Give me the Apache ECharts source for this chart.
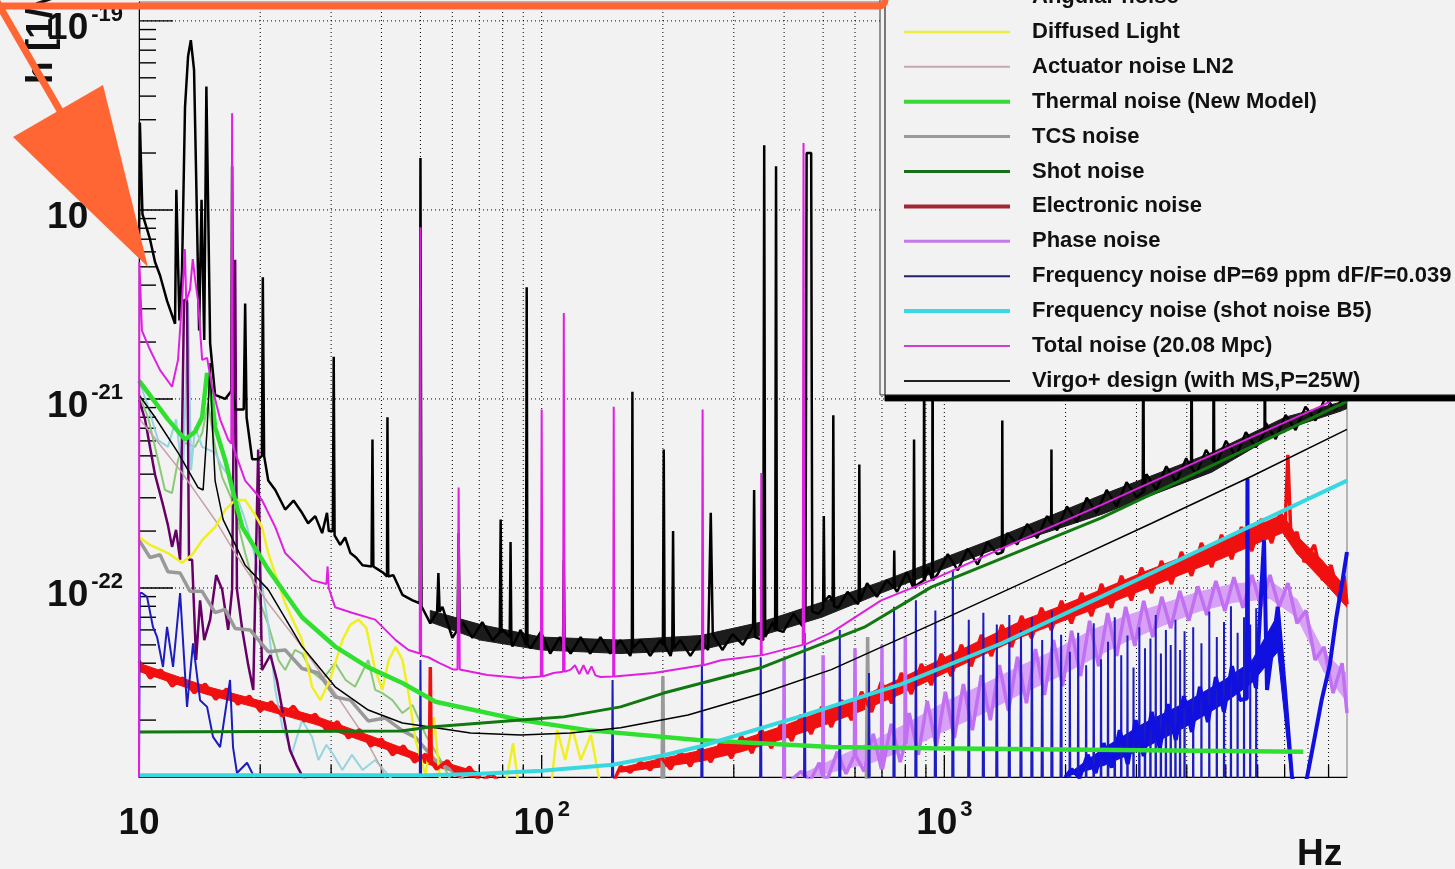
<!DOCTYPE html>
<html>
<head>
<meta charset="utf-8">
<title>Virgo+ noise budget</title>
<script src="https://cdn.jsdelivr.net/npm/echarts@6.0.0/dist/echarts.min.js"></script>
<style>
  html, body { margin: 0; padding: 0; background: #f2f2f2; }
  #chart { width: 1455px; height: 869px; }
</style>
</head>
<body>
<div id="chart"></div>
<script>
// all curves: [frequency in Hz, h in 1/sqrt(Hz)]
// bands: [frequency in Hz, lower edge, upper edge] of the dense core of a noisy curve

// measured sensitivity (black, not in the visible part of the legend)
const sensitivity = [
  [10, 6.2e-21], [10.05, 2.9e-20], [10.15, 2.9e-20], [10.2, 9.5e-21], [10.65, 7.0e-21], [10.96, 5.3e-21],
  [11.28, 4.5e-21], [11.74, 3.3e-21], [12.29, 2.5e-21], [12.38, 1.28e-20], [12.47, 1.28e-20], [12.6, 2.6e-21],
  [12.79, 4.8e-21], [13.01, 3.5e-20], [13.24, 6.5e-20], [13.45, 7.9e-20], [13.55, 7.9e-20], [13.7, 5.5e-20],
  [13.86, 1.57e-20], [14.1, 2.3e-21], [14.3, 1.13e-20], [14.4, 1.13e-20], [14.52, 2.05e-21], [14.7, 4.5e-20],
  [14.82, 4.5e-20], [15.02, 1.97e-21], [15.45, 1.05e-21], [16.37, 1.0e-21], [16.95, 1.1e-21], [17.03, 1.7e-20],
  [17.12, 1.1e-21], [17.33, 8.8e-22], [18.2, 8.8e-22], [18.35, 3.2e-21], [18.5, 8.0e-22], [19.1, 4.8e-22],
  [19.77, 4.8e-22], [20.2, 5.0e-22], [20.3, 4.4e-21], [20.45, 5.0e-22], [20.94, 3.7e-22], [21.8, 3.3e-22],
  [23.07, 2.6e-22], [24.2, 2.9e-22], [25.4, 2.5e-22], [26.3, 2.2e-22], [27.4, 2.4e-22], [28.5, 1.95e-22],
  [29.3, 2.5e-22], [29.6, 2.0e-22], [30.3, 2.0e-22], [30.45, 1.67e-21], [30.6, 1.9e-22], [31.6, 1.69e-22],
  [32.5, 1.85e-22], [33.5, 1.53e-22], [34.6, 1.45e-22], [35.9, 1.32e-22], [37.8, 1.3e-22], [38.0, 6.1e-22],
  [38.2, 1.3e-22], [39.3, 1.25e-22], [40.5, 1.2e-22], [41.3, 1.15e-22], [41.4, 8.0e-22], [41.6, 1.15e-22],
  [42.8, 1.17e-22], [45.1, 9.2e-23], [47.8, 8.6e-23], [49.8, 8.3e-23], [50.0, 1.88e-20], [50.3, 8.0e-23],
  [52.9, 6.5e-23], [55.0, 7.5e-23], [55.4, 1.2e-22], [55.8, 7.5e-23], [56.7, 7.95e-23], [60.0, 5.45e-23],
  [61.8, 6.0e-23], [62.2, 1.95e-22], [62.6, 6.0e-23], [63.6, 6.6e-23], [67.3, 5.45e-23], [71.2, 6.6e-23],
  [75.5, 5.3e-23], [78.7, 5.8e-23], [79.1, 2.3e-22], [79.5, 5.8e-23], [80.0, 6.0e-23], [83.3, 5.5e-23],
  [83.7, 1.75e-22], [84.1, 5.2e-23], [84.6, 4.9e-23], [88.7, 6.0e-23], [91.4, 5.0e-23], [91.8, 3.9e-21],
  [92.2, 5.0e-23], [93.9, 4.8e-23], [99.5, 5.86e-23], [105, 4.5e-23], [111, 5.5e-23], [113, 5.0e-23],
  [113.5, 1.4e-22], [114, 5.0e-23], [118, 4.5e-23], [125, 5.5e-23], [132, 4.5e-23], [140, 5.5e-23],
  [148, 4.5e-23], [157, 5.3e-23], [166, 4.37e-23], [167.5, 4.8e-23], [168, 1.09e-21], [168.5, 4.8e-23],
  [176, 5.3e-23], [186, 4.37e-23], [197, 5.3e-23], [200, 5.0e-23], [201, 5.4e-22], [202, 5.0e-23],
  [209, 4.37e-23], [211, 4.8e-23], [212, 2.0e-22], [213, 4.8e-23], [221, 5.3e-23], [234, 4.37e-23],
  [248, 5.3e-23], [259, 4.7e-23], [263, 2.5e-22], [266, 5.7e-23], [281, 4.7e-23], [298, 5.7e-23],
  [316, 5.0e-23], [335, 6.23e-23], [337, 3.3e-22], [339, 5.5e-23], [355, 5.3e-23], [357, 2.2e-20],
  [359, 5.5e-23], [375, 6.6e-23], [380, 6.0e-23], [382, 1.7e-20], [384, 6.0e-23], [398, 5.86e-23],
  [422, 7.3e-23], [444, 6.3e-23], [452, 7.0e-23], [455, 2.0e-20], [467, 2.0e-20], [470, 7.5e-23],
  [487, 7.3e-23], [500, 7.8e-23], [502, 2.4e-22], [504, 8.5e-23], [518, 9.1e-23], [528, 8.5e-23],
  [530, 8.2e-22], [532, 8.0e-23], [545, 7.85e-23], [575, 9.55e-23], [610, 8.2e-23], [613, 8.5e-23],
  [615, 4.5e-22], [617, 8.5e-23], [643, 1.06e-22], [680, 8.98e-23], [720, 1.1e-22], [749, 1.0e-22],
  [751, 1.58e-22], [753, 1.0e-22], [763, 9.55e-23], [807, 1.21e-22], [838, 1.0e-22], [841, 6.1e-22],
  [844, 1.0e-22], [856, 1.04e-22], [889, 1.1e-22], [891, 3.3e-21], [893, 1.1e-22], [911, 1.29e-22],
  [933, 1.1e-22], [935, 3.3e-21], [937, 1.1e-22], [964, 1.19e-22], [1020, 1.51e-22], [1080, 1.24e-22],
  [1143, 1.61e-22], [1210, 1.33e-22], [1280, 1.75e-22], [1355, 1.51e-22], [1390, 1.54e-22], [1393, 7.7e-22],
  [1396, 1.54e-22], [1434, 1.95e-22], [1517, 1.7e-22], [1606, 2.18e-22], [1700, 1.84e-22], [1800, 2.4e-22],
  [1842, 2.2e-22], [1845, 5.4e-22], [1848, 2.2e-22], [1905, 2.02e-22], [2016, 2.7e-22], [2134, 2.23e-22],
  [2258, 3.0e-22], [2390, 2.49e-22], [2530, 3.3e-22], [2678, 2.7e-22], [2835, 3.63e-22], [3000, 3.03e-22],
  [3110, 3.2e-22], [3120, 3.3e-21], [3130, 3.2e-22], [3176, 4.0e-22], [3362, 3.3e-22], [3558, 4.4e-22],
  [3766, 3.63e-22], [3987, 4.86e-22], [4100, 4.3e-22], [4111, 3.3e-21], [4122, 4.3e-22], [4220, 4.0e-22],
  [4467, 5.37e-22], [4655, 4.7e-22], [4667, 3.3e-21], [4680, 4.7e-22], [4728, 4.5e-22], [5005, 6.0e-22],
  [5298, 4.95e-22], [5608, 6.67e-22], [5936, 5.55e-22], [6240, 6.6e-22], [6252, 3.3e-21], [6265, 6.6e-22],
  [6283, 7.46e-22], [6650, 6.14e-22], [7040, 8.23e-22], [7452, 6.85e-22], [7888, 9.1e-22], [8350, 7.7e-22],
  [8838, 1.02e-21], [9355, 8.75e-22], [10000, 1.1e-21]
];
const sensitivityBand = [
  [52.9, 6.6e-23, 7.6e-23], [70.5, 5.3e-23, 6.4e-23], [99.5, 4.7e-23, 5.5e-23], [157, 4.5e-23, 5.3e-23],
  [248, 4.7e-23, 5.6e-23], [351, 5.6e-23, 6.6e-23], [496, 7.0e-23, 8.4e-23], [697, 9.4e-23, 1.08e-22],
  [1309, 1.58e-22, 1.8e-22], [2455, 2.45e-22, 3.1e-22], [4613, 4.1e-22, 5.2e-22], [7015, 6.9e-22, 8.0e-22],
  [9616, 8.6e-22, 9.6e-22], [10000, 8.9e-22, 9.9e-22]
];

const totalNoise = [
  [10, 1.0e-23], [10.02, 5.3e-21], [10.17, 2.3e-21], [10.65, 1.82e-21], [11.28, 1.42e-21], [12.08, 1.16e-21],
  [12.5, 1.61e-21], [12.79, 3.3e-21], [13.0, 6.2e-21], [13.1, 3.3e-21], [13.39, 3.8e-21], [13.6, 5.5e-21],
  [13.78, 4.3e-21], [14.02, 3.3e-21], [14.35, 1.61e-21], [14.76, 1.65e-21], [15.19, 1.16e-21], [15.9, 7.8e-22],
  [16.65, 6.1e-22], [16.95, 5.8e-22], [17.03, 3.25e-20], [17.12, 5.6e-22], [18.35, 3.7e-22], [20.2, 2.92e-22],
  [21.8, 2.1e-22], [23.07, 1.53e-22], [26.9, 1.1e-22], [29.2, 1.05e-22], [29.4, 1.3e-22], [29.6, 1.0e-22],
  [30.7, 7.9e-23], [33.8, 7.4e-23], [38.6, 6.8e-23], [43.4, 5.3e-23], [46.7, 4.7e-23], [49.8, 4.5e-23],
  [50.0, 8.1e-21], [50.2, 4.4e-23], [52.3, 4.3e-23], [55.8, 4.0e-23], [60.4, 3.7e-23], [61.8, 3.7e-23],
  [62.2, 3.4e-22], [62.6, 3.7e-23], [73.3, 3.46e-23], [88.7, 3.34e-23], [99.5, 3.4e-23], [100, 8.8e-22],
  [100.5, 3.4e-23], [107, 3.55e-23], [113, 3.6e-23], [113.5, 2.85e-21], [114, 3.6e-23], [118, 3.7e-23],
  [121, 3.9e-23], [124, 3.5e-23], [127, 3.9e-23], [130, 3.5e-23], [133, 3.85e-23], [136, 3.45e-23],
  [140, 3.38e-23], [150.5, 3.4e-23], [151, 9.1e-22], [151.5, 3.4e-23], [190, 3.55e-23], [231, 3.8e-23],
  [250, 3.9e-23], [251, 8.8e-22], [252, 3.9e-23], [279, 4.15e-23], [350, 4.4e-23], [351, 4.06e-22],
  [352, 4.4e-23], [445, 5.0e-23], [447, 2.26e-20], [449, 5.0e-23], [524, 5.8e-23], [697, 8.6e-23],
  [928, 1.1e-22], [1389, 1.62e-22], [2455, 2.75e-22], [4378, 4.8e-22], [8650, 9.2e-22], [10000, 1.08e-21]
];

const virgoDesign = [
  [10, 1.05e-21], [10.17, 1.0e-21], [10.96, 8.0e-22], [12.5, 5.2e-22], [14.02, 3.4e-22], [14.43, 3.3e-22],
  [14.76, 6.9e-22], [15.02, 1.55e-21], [15.19, 7.8e-22], [15.45, 3.7e-22], [16.18, 2.3e-22], [18.35, 1.32e-22],
  [20.94, 9.8e-23], [25.4, 4.9e-23], [30.7, 3.0e-23], [37.1, 2.26e-23], [45.1, 1.93e-23], [54.5, 1.82e-23],
  [66.6, 1.71e-23], [88.7, 1.67e-23], [118, 1.71e-23], [157, 1.82e-23], [231, 2.13e-23], [355, 2.78e-23],
  [524, 3.7e-23], [928, 6.4e-23], [1845, 1.25e-22], [3273, 2.2e-22], [5800, 3.9e-22], [10000, 6.9e-22]
];

const shotNoise = [
  [10, 1.73e-23], [44.7, 1.75e-23], [52.9, 1.84e-23], [88.7, 2.0e-23], [113.5, 2.08e-23], [157, 2.35e-23],
  [201, 2.78e-23], [279, 3.34e-23], [355, 3.82e-23], [633, 6.2e-23], [928, 1.01e-22], [2455, 2.35e-22],
  [4887, 4.7e-22], [10000, 9.7e-22]
];

const thermalNoise = [
  [10, 1.25e-21], [11.8, 7.8e-22], [13.01, 6.1e-22], [13.78, 6.7e-22], [14.35, 8.0e-22], [14.76, 1.37e-21],
  [15.1, 1.12e-21], [15.45, 7.1e-22], [16.37, 4.75e-22], [17.33, 2.92e-22], [18.05, 2.1e-22], [20.94, 1.25e-22],
  [25.4, 7.0e-23], [30.7, 4.9e-23], [37.1, 3.8e-23], [45.1, 3.14e-23], [54.5, 2.5e-23], [88.7, 2.0e-23],
  [130, 1.77e-23], [244, 1.57e-23], [524, 1.44e-23], [928, 1.42e-23], [7790, 1.36e-23]
];

const freqShotB5 = [
  [10, 1.02e-23], [50, 1.02e-23], [70.5, 1.04e-23], [100, 1.08e-23], [150, 1.16e-23], [200, 1.3e-23],
  [247, 1.45e-23], [441, 2.1e-23], [782, 3.1e-23], [1389, 5.1e-23], [2455, 9.0e-23], [4887, 1.8e-22],
  [10000, 3.7e-22]
];

const electronicNoise = [
  [10, 4.11e-23], [10.65, 3.34e-23], [11.34, 3.68e-23], [12.08, 3.03e-23], [12.86, 3.34e-23], [13.7, 2.79e-23],
  [14.6, 3.1e-23], [15.5, 2.58e-23], [16.5, 2.92e-23], [17.6, 2.43e-23], [18.8, 2.68e-23], [20, 2.23e-23],
  [21.3, 2.5e-23], [22.7, 2.1e-23], [24.2, 2.37e-23], [25.7, 1.98e-23], [27.4, 2.15e-23], [29.2, 1.77e-23],
  [31.1, 1.96e-23], [33.1, 1.61e-23], [35.3, 1.78e-23], [37.6, 1.46e-23], [40, 1.59e-23], [42.6, 1.31e-23],
  [45.4, 1.46e-23], [48.3, 1.2e-23], [51.5, 1.32e-23], [52.6, 1.2e-23], [52.9, 3.82e-23], [53.2, 1.2e-23],
  [54.8, 1.1e-23], [58.4, 1.22e-23], [62.2, 1.01e-23], [66.2, 1.13e-23], [70.5, 9.3e-24], [75, 1.04e-23],
  [80, 9e-24], [110, 8.5e-24], [150, 9.2e-24],
  [157, 1.14e-23], [166, 1.06e-23], [176, 1.2e-23], [186, 1.09e-23], [197, 1.29e-23], [209, 1.1e-23],
  [221, 1.36e-23], [234, 1.14e-23], [248, 1.44e-23], [263, 1.2e-23], [279, 1.55e-23], [296, 1.26e-23],
  [313, 1.65e-23], [333, 1.34e-23], [351, 1.79e-23], [372, 1.42e-23], [394, 1.95e-23], [418, 1.55e-23],
  [441, 2.13e-23], [467, 1.69e-23], [496, 2.35e-23], [524, 1.84e-23], [556, 2.55e-23], [588, 2.0e-23],
  [623, 2.82e-23], [660, 2.21e-23], [697, 3.18e-23], [740, 2.46e-23], [782, 3.55e-23], [828, 2.75e-23],
  [877, 3.96e-23], [928, 3.07e-23], [983, 4.48e-23], [1040, 3.42e-23], [1102, 5.0e-23], [1166, 3.86e-23],
  [1236, 5.64e-23], [1309, 4.37e-23], [1389, 6.37e-23], [1469, 4.88e-23], [1555, 7.1e-23], [1647, 5.43e-23],
  [1743, 7.85e-23], [1845, 6.0e-23], [1954, 8.55e-23], [2068, 6.5e-23], [2192, 9.4e-23], [2320, 7.1e-23],
  [2455, 1.05e-22], [2600, 7.85e-23], [2753, 1.16e-22], [2915, 8.6e-23], [3087, 1.28e-22], [3273, 9.4e-23],
  [3460, 1.39e-22], [3665, 1.05e-22], [3880, 1.55e-22], [4111, 1.16e-22], [4350, 1.73e-22], [4613, 1.29e-22],
  [4880, 1.91e-22], [5170, 1.42e-22], [5470, 2.1e-22], [5800, 1.57e-22], [6130, 2.32e-22], [6500, 1.73e-22],
  [6830, 2.52e-22], [7015, 2.03e-22], [7130, 5.06e-22], [7260, 1.79e-22], [7510, 1.98e-22], [7830, 1.37e-22],
  [8300, 1.69e-22], [8690, 1.1e-22], [9130, 1.32e-22], [9590, 8.6e-23], [9830, 1.16e-22], [10000, 8.2e-23]
];
const electronicBandLow = [
  [10, 3.62e-23, 4.0e-23], [14.6, 2.75e-23, 3.03e-23], [20, 2.3e-23, 2.53e-23], [27.4, 1.9e-23, 2.1e-23],
  [37.6, 1.5e-23, 1.65e-23], [51.5, 1.18e-23, 1.28e-23], [70.5, 9.7e-24, 1.05e-23]
];
const electronicBandHigh = [
  [157, 1.06e-23, 1.12e-23], [198, 1.13e-23, 1.25e-23], [248, 1.21e-23, 1.38e-23], [313, 1.36e-23, 1.57e-23],
  [394, 1.58e-23, 1.85e-23], [496, 1.86e-23, 2.22e-23], [623, 2.24e-23, 2.66e-23], [782, 2.76e-23, 3.34e-23],
  [983, 3.48e-23, 4.2e-23], [1236, 4.38e-23, 5.3e-23], [1555, 5.5e-23, 6.7e-23], [1954, 6.65e-23, 8.05e-23],
  [2455, 8.0e-23, 9.8e-23], [3087, 9.7e-23, 1.2e-22], [3880, 1.18e-22, 1.45e-22], [4880, 1.43e-22, 1.79e-22],
  [6130, 1.76e-22, 2.18e-22], [6920, 1.96e-22, 2.45e-22], [7510, 1.52e-22, 1.88e-22], [8650, 1.11e-22, 1.41e-22],
  [10000, 7.9e-23, 9.9e-23]
];

const phaseNoise = [
  [300, 9e-24], [399, 9e-24], [400, 4.2e-23], [401, 9e-24], [441, 1.07e-23], [464, 9.5e-24], [489, 1.19e-23],
  [499, 1.0e-23], [500, 4.4e-23], [501, 1.0e-23], [514, 9.9e-24], [542, 1.36e-23], [570, 1.04e-23],
  [598, 1.3e-23], [600, 4.8e-23], [602, 1.3e-23], [632, 1.07e-23], [666, 1.69e-23], [698, 1.1e-23],
  [700, 5.0e-23], [702, 1.1e-23], [738, 1.91e-23], [777, 1.2e-23], [798, 1.5e-23], [800, 5.5e-23],
  [802, 1.5e-23], [818, 2.18e-23], [862, 1.31e-23], [907, 2.52e-23], [955, 1.44e-23], [1006, 2.82e-23],
  [1059, 1.61e-23], [1115, 3.1e-23], [1174, 1.77e-23], [1236, 3.46e-23], [1301, 2.0e-23], [1370, 3.91e-23],
  [1443, 2.24e-23], [1519, 4.32e-23], [1599, 2.46e-23], [1684, 4.75e-23], [1773, 2.72e-23], [1867, 5.3e-23],
  [1966, 3.03e-23], [2070, 5.93e-23], [2179, 3.42e-23], [2295, 6.7e-23], [2416, 3.86e-23], [2544, 7.37e-23],
  [2679, 4.37e-23], [2820, 7.95e-23], [2970, 4.94e-23], [3127, 8.55e-23], [3292, 5.5e-23], [3467, 8.98e-23],
  [3650, 6.13e-23], [3843, 9.65e-23], [4047, 6.7e-23], [4261, 1.02e-22], [4486, 7.2e-23], [4724, 1.09e-22],
  [4974, 7.55e-23], [5237, 1.14e-22], [5514, 7.85e-23], [5806, 1.17e-22], [6113, 8.0e-23], [6437, 1.17e-22],
  [6777, 7.95e-23], [7136, 1.06e-22], [7514, 6.5e-23], [7911, 7.6e-23], [8330, 4.16e-23], [8771, 4.88e-23],
  [9235, 2.78e-23], [9724, 4.0e-23], [10000, 2.18e-23]
];
const phaseBand = [
  [441, 9.6e-24, 1.03e-23], [542, 1.08e-23, 1.27e-23], [666, 1.2e-23, 1.55e-23], [818, 1.42e-23, 1.95e-23],
  [1006, 1.76e-23, 2.5e-23], [1236, 2.15e-23, 3.05e-23], [1519, 2.7e-23, 3.8e-23], [1867, 3.3e-23, 4.65e-23],
  [2295, 4.15e-23, 5.9e-23], [2820, 5.2e-23, 7.1e-23], [3467, 6.3e-23, 8.2e-23], [4261, 7.5e-23, 9.5e-23],
  [5237, 8.4e-23, 1.05e-22], [6437, 8.8e-23, 1.09e-22], [7514, 7.0e-23, 8.7e-23], [8771, 3.6e-23, 4.55e-23],
  [10000, 2.5e-23, 3.5e-23]
];

// frequency noise dP: low-frequency part and the 50 Hz + n*100 Hz lines ...
const freqNoiseDPLines = [
  [10, 1.0e-23], [10.05, 9.4e-23], [10.17, 9.4e-23], [10.47, 8.98e-23], [10.83, 6.23e-23], [11.09, 5.5e-23],
  [11.47, 3.82e-23], [11.74, 6.23e-23], [12.15, 3.82e-23], [12.65, 9.4e-23], [13.16, 2.35e-23], [13.62, 5.1e-23],
  [14.18, 2.55e-23], [14.76, 2.35e-23], [15.27, 1.63e-23], [15.9, 1.44e-23], [16.83, 3.26e-23], [17.12, 1.44e-23],
  [17.51, 1.05e-23], [18.55, 1.19e-23], [19.1, 1.05e-23], [19.8, 8.5e-24],
  [49.8, 8.5e-24], [50, 4.16e-23], [50.2, 8.5e-24],
  [149.4, 8.5e-24], [150, 3.26e-23], [150.6, 8.5e-24],
  [249, 8.5e-24], [250, 4.0e-23], [251, 8.5e-24],
  [348.6, 8.5e-24], [350, 4.3e-23], [351.4, 8.5e-24],
  [448.2, 8.5e-24], [450, 5.8e-23], [451.8, 8.5e-24],
  [547.8, 8.5e-24], [550, 6.0e-23], [552.2, 8.5e-24],
  [647.4, 8.5e-24], [650, 3.55e-23], [652.6, 8.5e-24],
  [747, 8.5e-24], [750, 7.95e-23], [753, 8.5e-24],
  [846.6, 8.5e-24], [850, 8.6e-23], [853.4, 8.5e-24],
  [946.2, 8.5e-24], [950, 7.6e-23], [953.8, 8.5e-24],
  [1045.8, 8.5e-24], [1050, 1.25e-22], [1054.2, 8.5e-24],
  [1145.4, 8.5e-24], [1150, 6.8e-23], [1154.6, 8.5e-24],
  [1245, 8.5e-24], [1250, 7.4e-23], [1255, 8.5e-24],
  [1344.6, 8.5e-24], [1350, 6.4e-23], [1355.4, 8.5e-24],
  [1444.2, 8.5e-24], [1450, 7.2e-23], [1455.8, 8.5e-24],
  [1543.8, 8.5e-24], [1550, 6.0e-23], [1556.2, 8.5e-24],
  [1643.4, 8.5e-24], [1650, 7.0e-23], [1656.6, 8.5e-24],
  [1743, 8.5e-24], [1750, 5.3e-23], [1757, 8.5e-24],
  [1842.6, 8.5e-24], [1850, 7.6e-23], [1857.4, 8.5e-24],
  [1942.2, 8.5e-24], [1950, 5.65e-23], [1957.8, 8.5e-24],
  [2045, 8.5e-24], [2050, 4.6e-23], [2055, 8.5e-24],
  [2145, 8.5e-24], [2150, 5.8e-23], [2155, 8.5e-24],
  [2245, 8.5e-24], [2250, 3.9e-23], [2255, 8.5e-24],
  [2345, 8.5e-24], [2350, 6.5e-23], [2355, 8.5e-24],
  [2445, 8.5e-24], [2450, 4.2e-23], [2455, 8.5e-24],
  [2545, 8.5e-24], [2550, 5.2e-23], [2555, 8.5e-24],
  [2645, 8.5e-24], [2650, 7.0e-23], [2655, 8.5e-24],
  [2745, 8.5e-24], [2750, 4.4e-23], [2755, 8.5e-24],
  [2845, 8.5e-24], [2850, 5.6e-23], [2855, 8.5e-24],
  [2945, 8.5e-24], [2950, 3.8e-23], [2955, 8.5e-24],
  [3045, 8.5e-24], [3050, 6.2e-23], [3055, 8.5e-24],
  [3145, 8.5e-24], [3150, 4.8e-23], [3155, 8.5e-24],
  [3245, 8.5e-24], [3250, 5.4e-23], [3255, 8.5e-24],
  [3345, 8.5e-24], [3350, 7.2e-23], [3355, 8.5e-24],
  [3445, 8.5e-24], [3450, 4.5e-23], [3455, 8.5e-24],
  [3545, 8.5e-24], [3550, 6.0e-23], [3555, 8.5e-24],
  [3645, 8.5e-24], [3650, 5.0e-23], [3655, 8.5e-24],
  [3745, 8.5e-24], [3750, 6.8e-23], [3755, 8.5e-24],
  [3845, 8.5e-24], [3850, 4.7e-23], [3855, 8.5e-24],
  [3945, 8.5e-24], [3950, 5.9e-23], [3955, 8.5e-24],
  [4145, 8.5e-24], [4150, 6.2e-23], [4155, 8.5e-24],
  [4345, 8.5e-24], [4350, 5.1e-23], [4355, 8.5e-24],
  [4545, 8.5e-24], [4550, 7.5e-23], [4555, 8.5e-24],
  [4745, 8.5e-24], [4750, 5.5e-23], [4755, 8.5e-24],
  [4945, 8.5e-24], [4950, 6.6e-23], [4955, 8.5e-24],
  [5145, 8.5e-24], [5150, 8.0e-23], [5155, 8.5e-24],
  [5345, 8.5e-24], [5350, 5.8e-23], [5355, 8.5e-24],
  [5545, 8.5e-24], [5550, 7.0e-23], [5555, 8.5e-24],
  [5745, 8.5e-24], [5750, 6.4e-23], [5755, 8.5e-24],
  [5945, 8.5e-24], [5950, 7.8e-23], [5955, 8.5e-24]
];

// ... and its dense high-frequency continuum
const freqNoiseDPBand = [
  [2000, 1.0e-23], [2070, 1.1e-23], [2167, 9.9e-24], [2269, 1.31e-23], [2375, 1.05e-23], [2487, 1.51e-23],
  [2603, 1.12e-23], [2726, 1.77e-23], [2853, 1.17e-23], [2987, 2.0e-23], [3127, 1.29e-23], [3274, 2.21e-23],
  [3428, 1.42e-23], [3589, 2.43e-23], [3757, 1.57e-23], [3933, 2.68e-23], [4118, 1.73e-23], [4311, 3.0e-23],
  [4514, 1.95e-23], [4725, 3.38e-23], [4947, 2.21e-23], [5180, 3.86e-23], [5422, 2.55e-23], [5640, 2.6e-23],
  [5660, 3.8e-22], [5677, 4.52e-23], [5943, 2.96e-23], [6222, 1.79e-22], [6330, 2.89e-23], [6730, 7.95e-23],
  [7015, 2.89e-23], [7300, 1.0e-23], [7650, 7.6e-24], [7960, 1.0e-23], [8290, 1.57e-23], [8650, 2.55e-23],
  [9060, 3.9e-23], [9400, 6.9e-23], [9750, 1.1e-22], [10000, 1.55e-22]
];
const freqNoiseDPEnvelope = [
  [1985, 1.0e-23, 1.0e-23], [2487, 1.15e-23, 1.42e-23], [3127, 1.42e-23, 1.92e-23], [3933, 1.82e-23, 2.45e-23],
  [4947, 2.45e-23, 3.25e-23], [5800, 3.15e-23, 4.1e-23], [6730, 4.6e-23, 7.2e-23], [7300, 9e-24, 1.05e-23]
];

const tcsNoise = [
  [10, 1.79e-22], [10.65, 1.45e-22], [11.28, 1.5e-22], [11.8, 1.22e-22], [12.65, 1.2e-22], [13.39, 9.6e-23],
  [14.35, 9.6e-23], [15.45, 7.4e-23], [16.37, 7.7e-23], [17.33, 6.1e-23], [18.87, 6.0e-23], [20.94, 4.6e-23],
  [23.07, 4.7e-23], [25.4, 3.75e-23], [27.9, 3.55e-23], [30.7, 2.65e-23], [33.5, 2.55e-23], [37.1, 1.98e-23],
  [40.9, 2.05e-23], [45.1, 1.76e-23], [48.6, 1.62e-23], [54.5, 1.22e-23], [61.2, 1.05e-23], [66.6, 9e-24],
  [199, 9e-24], [200, 3.4e-23], [201, 9e-24], [640, 9e-24], [645, 5.5e-23], [650, 9e-24]
];

const diffusedLight = [
  [10, 1.86e-22], [10.65, 1.69e-22], [11.8, 1.53e-22], [12.79, 1.36e-22], [13.55, 1.5e-22], [14.35, 1.79e-22],
  [15.45, 2.1e-22], [16.37, 2.59e-22], [17.33, 2.92e-22], [18.35, 2.92e-22], [19.44, 2.43e-22], [20.2, 2.1e-22],
  [20.94, 1.53e-22], [23.07, 8.3e-23], [25.4, 5.3e-23], [26.9, 3.0e-23], [28.2, 2.55e-23], [29.8, 3.26e-23],
  [32.0, 5.3e-23], [33.5, 6.4e-23], [35.1, 6.8e-23], [36.7, 6.13e-23], [38.6, 3.68e-23], [40.2, 2.89e-23],
  [41.7, 4.16e-23], [43.4, 4.88e-23], [45.1, 4.16e-23], [46.7, 2.78e-23], [48.6, 1.57e-23], [51.5, 1.02e-23],
  [54.0, 2.08e-23], [56.1, 9e-24], [81.3, 9e-24], [84.9, 1.51e-23], [87.6, 9e-24], [105.6, 9e-24],
  [109.3, 1.77e-23], [114.4, 1.23e-23], [119, 1.84e-23], [125, 1.23e-23], [132.5, 1.67e-23], [140, 9e-24]
];

const actuatorNoise = [
  [10, 7.9e-22], [12.65, 4.2e-22], [15.45, 2.29e-22], [17.33, 1.53e-22], [20.94, 8.3e-23], [25.4, 4.88e-23],
  [30.7, 2.78e-23], [35.8, 1.71e-23], [40.2, 1.09e-23], [42.0, 8.5e-24]
];

const angularNoise = [
  [10, 1.26e-21], [10.53, 9.1e-22], [11.15, 6.06e-22], [11.8, 5.58e-22], [12.36, 7.8e-22], [12.86, 3.73e-22],
  [13.24, 3.22e-21], [13.47, 4.2e-22], [13.78, 7.1e-22], [14.35, 5.58e-22], [15.45, 5.2e-22], [16.09, 4.37e-22],
  [17.03, 3.73e-22], [17.63, 2.92e-22], [18.35, 2.29e-22], [19.1, 1.69e-22], [20.2, 1.04e-22], [20.94, 6.4e-23],
  [21.8, 2.89e-23], [22.7, 1.84e-23], [24.0, 1.34e-23], [25.4, 2.0e-23], [26.9, 1.63e-23], [27.9, 1.23e-23],
  [29.2, 1.48e-23], [30.2, 1.34e-23], [32.0, 1.09e-23], [33.8, 1.31e-23], [35.9, 1.09e-23], [38.6, 1.23e-23],
  [42.0, 1.0e-23], [44.5, 8.5e-24]
];

// two further low-frequency projections whose legend rows are cut off at the top
const lowFreqGreen = [
  [10, 1.05e-21], [10.53, 8.0e-22], [11.15, 4.75e-22], [11.6, 3.3e-22], [12.08, 3.18e-22], [12.5, 4.75e-22],
  [13.01, 5.86e-22], [13.78, 5.58e-22], [14.35, 6.6e-22], [14.85, 9.5e-22], [15.45, 5.58e-22], [16.09, 3.86e-22],
  [17.03, 2.92e-22], [18.35, 1.53e-22], [19.44, 9.8e-23], [20.94, 6.4e-23], [22.2, 4.16e-23], [23.07, 3.68e-23],
  [24.4, 4.7e-23], [25.4, 4.5e-23], [26.9, 3.6e-23], [28.5, 3.26e-23], [30.7, 4.0e-23], [32.6, 3.26e-23],
  [34.4, 3.0e-23], [37.1, 4.16e-23], [38.6, 2.89e-23], [40.2, 2.78e-23], [42.6, 2.55e-23], [45.1, 2.18e-23],
  [47.8, 2.4e-23], [51.5, 1.67e-23], [56.1, 1.23e-23], [61.2, 8.5e-24]
];

const lowFreqPurple = [
  [10, 9.9e-22], [10.35, 7.8e-22], [10.96, 3.97e-22], [11.47, 2.75e-22], [11.8, 2.15e-22], [12.08, 1.65e-22],
  [12.36, 2.03e-22], [12.65, 1.41e-22], [12.94, 3.34e-21], [13.16, 3.34e-21], [13.31, 1.41e-22], [13.55, 1.41e-22],
  [13.86, 4.16e-23], [14.18, 8.6e-23], [14.52, 5.3e-23], [15.02, 6.8e-23], [15.55, 1.17e-22], [16.09, 9.8e-23],
  [16.65, 6.0e-23], [17.03, 9.8e-23], [17.33, 5.45e-21], [17.51, 9.8e-23], [18.05, 6.0e-23], [18.67, 3.92e-23],
  [19.22, 2.89e-23], [19.77, 5.4e-22], [20.2, 3.68e-23], [21.2, 4.42e-23], [22.0, 3.26e-23], [22.7, 2.26e-23],
  [23.7, 1.39e-23], [24.6, 1.16e-23], [25.4, 1.02e-23], [26.0, 9.6e-24]
];

// axis ticks (ROOT style: inside, with dotted grid)
const xMinorTicks = [20, 30, 40, 50, 60, 70, 80, 90, 200, 300, 400, 500, 600, 700, 800, 900,
  2000, 3000, 4000, 5000, 6000, 7000, 8000, 9000];
const xMajorTicks = [100, 1000];
const yMajorTicks = [1e-22, 1e-21, 1e-20, 1e-19];
const yMinorTicks = [
  2e-23, 3e-23, 4e-23, 5e-23, 6e-23, 7e-23, 8e-23, 9e-23,
  2e-22, 3e-22, 4e-22, 5e-22, 6e-22, 7e-22, 8e-22, 9e-22,
  2e-21, 3e-21, 4e-21, 5e-21, 6e-21, 7e-21, 8e-21, 9e-21,
  2e-20, 3e-20, 4e-20, 5e-20, 6e-20, 7e-20, 8e-20, 9e-20
];

const X_MIN = 10, X_MAX = 10000;
const Y_MIN = 1e-23, Y_MAX = 1.2589e-19;
const FONT = '"Liberation Sans", Arial, Helvetica, sans-serif';
const ORANGE = '#ff6633';
const DP_NAME = 'Frequency noise dP=69 ppm dF/F=0.039';

const chart = echarts.init(document.getElementById('chart'));

function curve(name, data, color, width) {
  return {
    name: name,
    type: 'line',
    data: data,
    symbol: 'none',
    showSymbol: false,
    silent: true,
    lineStyle: { color: color, width: width },
    itemStyle: { color: color },
    emphasis: { disabled: true }
  };
}

// filled strip between the lower and upper edge of a dense noise band
function band(name, data, color) {
  return {
    type: 'custom',
    name: name,
    silent: true,
    clip: true,
    encode: { x: 0, y: [1, 2] },
    data: data,
    renderItem: function (params, api) {
      const i = params.dataIndex;
      if (i >= data.length - 1) return null;
      const next = data[i + 1];
      const p1 = api.coord([api.value(0), api.value(1)]);
      const p2 = api.coord([api.value(0), api.value(2)]);
      const p3 = api.coord([next[0], next[2]]);
      const p4 = api.coord([next[0], next[1]]);
      return {
        type: 'polygon',
        shape: { points: [p1, p2, p3, p4] },
        style: { fill: color, stroke: color, lineWidth: 1 }
      };
    }
  };
}

function powerLabel(value) {
  const e = Math.log10(value);
  const r = Math.round(e);
  if (Math.abs(e - r) > 1e-6) return null;
  return r;
}

function renderXTick(params, api) {
  const f = api.value(0);
  const major = api.value(2) === 1;
  const b = api.coord([f, Y_MIN]);
  const t = api.coord([f, Y_MAX]);
  return {
    type: 'group',
    children: [
      { type: 'line', shape: { x1: b[0], y1: b[1], x2: t[0], y2: t[1] },
        style: { stroke: '#000', lineWidth: 1, lineDash: [1, 3] } },
      { type: 'line', shape: { x1: b[0], y1: b[1], x2: b[0], y2: b[1] - (major ? 22 : 12) },
        style: { stroke: '#000', lineWidth: 1.3 } }
    ]
  };
}

function renderYTick(params, api) {
  const v = api.value(1);
  const major = api.value(2) === 1;
  const l = api.coord([X_MIN, v]);
  const r = api.coord([X_MAX, v]);
  const children = [
    { type: 'line', shape: { x1: l[0], y1: l[1], x2: l[0] + (major ? 34 : 17), y2: l[1] },
      style: { stroke: '#000', lineWidth: 1.4 } }
  ];
  if (major) {
    children.unshift({ type: 'line', shape: { x1: l[0], y1: l[1], x2: r[0], y2: r[1] },
      style: { stroke: '#000', lineWidth: 1, lineDash: [1, 3] } });
  }
  return { type: 'group', children: children };
}

const richLabel = {
  b: { fontSize: 37, fontWeight: 'bold', fontFamily: FONT, color: '#111', lineHeight: 50 },
  s: { fontSize: 22, fontWeight: 'bold', fontFamily: FONT, color: '#111', lineHeight: 22, padding: [0, 0, 28, 3] }
};

const legendText = { fontSize: 22, fontWeight: 'bold', fontFamily: FONT, color: '#111', lineHeight: 24, padding: [0, 0, 0, 17] };

const option = {
  animation: false,
  backgroundColor: '#f2f2f2',
  title: {
    text: 'Hz', left: 1297, top: 836, padding: 0,
    textStyle: { fontSize: 37, fontWeight: 'bold', fontFamily: FONT, color: '#111' }
  },
  grid: {
    left: 139, top: 2, width: 1208, height: 775,
    containLabel: false, outerBoundsMode: 'none',
    show: true, borderColor: '#777', borderWidth: 1, backgroundColor: 'transparent'
  },
  xAxis: {
    type: 'log', logBase: 10, min: X_MIN, max: X_MAX,
    axisLine: { show: true, lineStyle: { color: '#000', width: 1 } },
    axisTick: { show: false }, splitLine: { show: false }, minorTick: { show: false },
    axisLabel: {
      margin: 22, rich: richLabel,
      formatter: function (v) {
        const r = powerLabel(v);
        if (r === null || r === 4) return '';
        if (r === 1) return '{b|10}';
        return '{b|10}{s|' + r + '}';
      }
    }
  },
  yAxis: {
    type: 'log', logBase: 10, min: Y_MIN, max: Y_MAX,
    axisLine: { show: true, lineStyle: { color: '#000', width: 1 } },
    axisTick: { show: false }, splitLine: { show: false }, minorTick: { show: false },
    axisLabel: {
      margin: 16, padding: [16, 0, 0, 0], rich: richLabel,
      formatter: function (v) {
        const r = powerLabel(v);
        if (r === null) return '';
        return '{b|10}{s|' + r + '}';
      }
    }
  },
  legend: {
    orient: 'vertical', left: 880, top: -24,
    padding: [10, 20, 3, 22],
    itemWidth: 106, itemHeight: 22, itemGap: 12.9,
    backgroundColor: '#f2f2f2', borderColor: '#333', borderWidth: 1,
    shadowColor: '#000', shadowOffsetX: 5, shadowOffsetY: 6, shadowBlur: 0,
    selectedMode: false,
    itemStyle: { opacity: 0, borderWidth: 0 },
    formatter: function (name) { return '{t|' + name + '}'; },
    textStyle: { color: '#111', rich: { t: legendText } },
    data: [
      { name: 'Angular noise', lineStyle: { color: '#a8e2ea', width: 2 } },
      { name: 'Diffused Light', lineStyle: { color: '#eeee44', width: 2.5 } },
      { name: 'Actuator noise LN2', lineStyle: { color: '#c8a8ac', width: 2 } },
      { name: 'Thermal noise (New Model)', lineStyle: { color: '#3ad83a', width: 4 } },
      { name: 'TCS noise', lineStyle: { color: '#999999', width: 3 } },
      { name: 'Shot noise', lineStyle: { color: '#1a6e1a', width: 3 } },
      { name: 'Electronic noise', lineStyle: { color: '#a02832', width: 4 } },
      { name: 'Phase noise', lineStyle: { color: '#c47ae6', width: 3 } },
      { name: DP_NAME, lineStyle: { color: '#22226e', width: 2 } },
      { name: 'Frequency noise (shot noise B5)', lineStyle: { color: '#3ad8e4', width: 4 } },
      { name: 'Total noise (20.08 Mpc)', lineStyle: { color: '#d040d0', width: 2 } },
      { name: 'Virgo+ design (with MS,P=25W)', lineStyle: { color: '#222222', width: 2 } }
    ]
  },
  series: [
    {
      type: 'custom', name: 'xTicks', silent: true, z: 1,
      encode: { x: 0, y: 1 },
      data: xMinorTicks.map(function (f) { return [f, Y_MIN, 0]; })
        .concat(xMajorTicks.map(function (f) { return [f, Y_MIN, 1]; })),
      renderItem: renderXTick
    },
    {
      type: 'custom', name: 'yTicks', silent: true, z: 1,
      encode: { x: 0, y: 1 },
      data: yMinorTicks.map(function (v) { return [X_MIN, v, 0]; })
        .concat(yMajorTicks.map(function (v) { return [X_MIN, v, 1]; })),
      renderItem: renderYTick
    },
    curve('Low-frequency projection A', lowFreqGreen, '#8cc878', 2),
    curve('Angular noise', angularNoise, '#96d4e0', 2),
    curve('Low-frequency projection B', lowFreqPurple, '#660066', 2.5),
    curve('Actuator noise LN2', actuatorNoise, '#c8a0a6', 1.5),
    curve('TCS noise', tcsNoise, '#999999', 3.5),
    curve('Diffused Light', diffusedLight, '#f0f020', 2.5),
    band('Electronic noise band low', electronicBandLow, '#f01010'),
    band('Electronic noise band high', electronicBandHigh, '#f01010'),
    curve('Electronic noise', electronicNoise, '#f01010', 3.5),
    band('Phase noise band', phaseBand, '#d7a2f6'),
    curve('Phase noise', phaseNoise, '#c070f0', 3.5),
    band('Frequency noise dP band', freqNoiseDPEnvelope, '#1010e0'),
    curve(DP_NAME, freqNoiseDPLines, '#1c1cc0', 2),
    curve(DP_NAME, freqNoiseDPBand, '#1010e0', 4),
    curve('Thermal noise (New Model)', thermalNoise, '#30e030', 4.5),
    curve('Virgo+ design (with MS,P=25W)', virgoDesign, '#000000', 1.5),
    curve('Frequency noise (shot noise B5)', freqShotB5, '#38d8e0', 4),
    band('Measured sensitivity band', sensitivityBand, '#1c1c1c'),
    curve('Measured sensitivity', sensitivity, '#000000', 2.5),
    curve('Shot noise', shotNoise, '#117711', 3),
    curve('Total noise (20.08 Mpc)', totalNoise, '#e020e0', 2)
  ],
  graphic: [
    {
      type: 'text', x: 60, y: 84, rotation: Math.PI / 2, z: 50,
      style: {
        text: 'h [1/\u221AHz]', font: 'bold 37px ' + FONT, fill: '#111',
        align: 'left', verticalAlign: 'bottom', textAlign: 'left', textVerticalAlign: 'bottom'
      }
    },
    {
      type: 'rect', z: 100,
      shape: { x: -40, y: -80, width: 925, height: 86, r: 6 },
      style: { fill: 'none', stroke: ORANGE, lineWidth: 7 }
    },
    {
      type: 'line', z: 100,
      shape: { x1: -4, y1: 0, x2: 70, y2: 128 },
      style: { stroke: ORANGE, lineWidth: 7 }
    },
    {
      type: 'polygon', z: 100,
      shape: { points: [[13, 137], [103, 85], [148, 267]] },
      style: { fill: ORANGE }
    }
  ]
};

chart.setOption(option);
</script>
</body>
</html>
